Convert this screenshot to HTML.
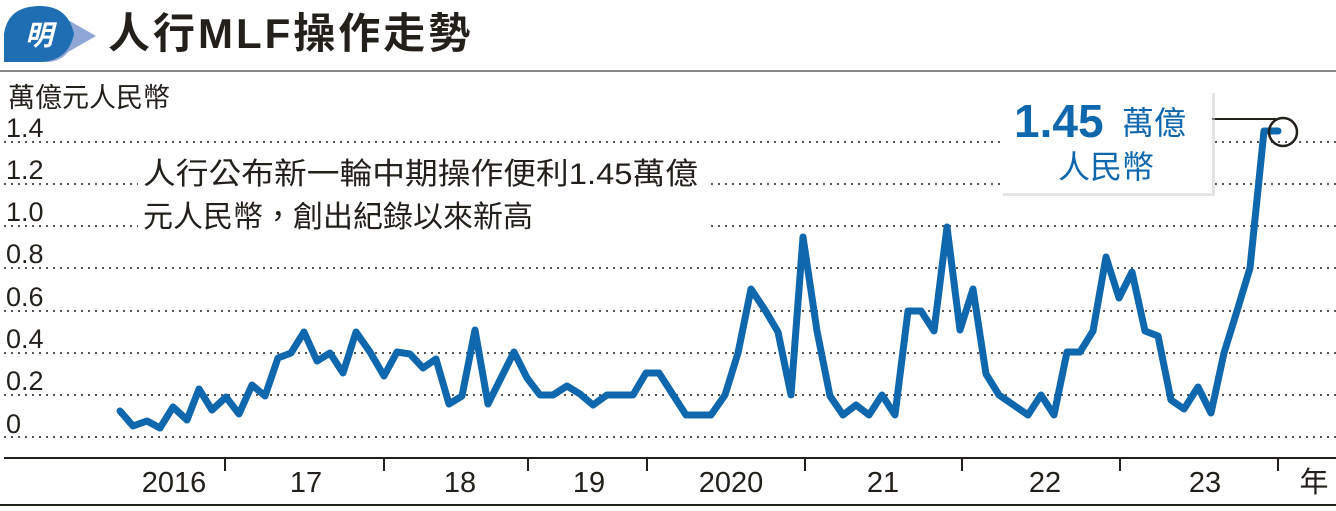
<!DOCTYPE html>
<html><head><meta charset="utf-8"><style>
body{margin:0;background:#fff;width:1336px;height:506px;overflow:hidden;font-family:"Liberation Sans","Noto Sans CJK TC",sans-serif;}
</style></head><body>
<svg width="1336" height="506" viewBox="0 0 1336 506" xmlns="http://www.w3.org/2000/svg" style="font-family:'Liberation Sans','Noto Sans CJK TC',sans-serif">
<path d="M50 12 Q60 10 68 20 L96 36 L68 52 Q60 62 46 62 L8 62 Q2 40 10 22 Q22 10 50 12 Z" fill="#8fa6d6"/>
<path d="M40 6 Q68 6 74 34 Q68 62 38 62 L4 62 L4 34 Q8 6 40 6 Z" fill="#1f6eb3"/>
<text x="39" y="45" font-size="28" font-weight="bold" fill="#fff" text-anchor="middle" font-style="italic">明</text>
<text x="108" y="48" font-size="42" font-weight="bold" fill="#231f1a" letter-spacing="3">人行MLF操作走勢</text>
<line x1="0" y1="71" x2="1336" y2="71" stroke="#888" stroke-width="2"/>
<text x="8" y="107" font-size="27" fill="#231f1a">萬億元人民幣</text>
<g stroke="#555" stroke-width="2" stroke-dasharray="2,5">
<line x1="4" y1="142" x2="1336" y2="142"/><line x1="4" y1="184" x2="1336" y2="184"/><line x1="4" y1="226" x2="1336" y2="226"/><line x1="4" y1="268" x2="1336" y2="268"/><line x1="4" y1="311" x2="1336" y2="311"/><line x1="4" y1="353" x2="1336" y2="353"/><line x1="4" y1="395" x2="1336" y2="395"/><line x1="4" y1="437" x2="1336" y2="437"/>
</g>
<g font-size="27" fill="#231f1a">
<text x="6" y="137">1.4</text><text x="6" y="179">1.2</text><text x="6" y="221">1.0</text><text x="6" y="263">0.8</text><text x="6" y="306">0.6</text><text x="6" y="348">0.4</text><text x="6" y="390">0.2</text><text x="6" y="433">0</text>
</g>
<rect x="138" y="150" width="570" height="94" fill="#fff"/>
<text x="143" y="184" font-size="30" fill="#231f1a" textLength="555" lengthAdjust="spacingAndGlyphs">人行公布新一輪中期操作便利1.45萬億</text>
<text x="143" y="227" font-size="30" fill="#231f1a">元人民幣，創出紀錄以來新高</text>
<line x1="4" y1="458" x2="1336" y2="458" stroke="#231f1a" stroke-width="2"/>
<line x1="0" y1="505" x2="1336" y2="505" stroke="#231f1a" stroke-width="2"/>
<g stroke="#231f1a" stroke-width="2">
<line x1="225" y1="458" x2="225" y2="471"/><line x1="384" y1="458" x2="384" y2="471"/><line x1="528" y1="458" x2="528" y2="471"/><line x1="647" y1="458" x2="647" y2="471"/><line x1="805" y1="458" x2="805" y2="471"/><line x1="962" y1="458" x2="962" y2="471"/><line x1="1120" y1="458" x2="1120" y2="471"/><line x1="1278" y1="458" x2="1278" y2="471"/>
</g>
<g font-size="29" fill="#231f1a" text-anchor="middle">
<text x="174" y="492">2016</text><text x="306" y="492">17</text><text x="460" y="492">18</text><text x="589" y="492">19</text><text x="731" y="492">2020</text><text x="883" y="492">21</text><text x="1045" y="492">22</text><text x="1205" y="492">23</text><text x="1314" y="492">年</text>
</g>
<polyline fill="none" stroke="#0f67ad" stroke-width="7" stroke-linejoin="round" stroke-linecap="round" points="120,411 133,426 147,421 160,428 173,407 187,420 199,389 212,410 226,397 239,414 252,385 265,396 278,358 291,353 304,332 317,361 330,353 343,373 356,332 370,352 384,376 397,352 410,354 423,368 436,359 449,404 462,396 475,330 488,404 501,378 514,352 527,378 540,395 553,395 567,386 580,394 593,405 607,395 620,395 633,395 646,373 659,373 686,415 711,415 725,395 738,353 751,289 765,310 778,332 791,395 803,237 817,331 830,396 843,415 856,405 869,415 882,395 895,415 908,311 921,311 934,331 947,227 960,330 973,289 986,374 999,395 1028,415 1041,395 1054,415 1067,352 1080,352 1093,331 1106,257 1119,298 1132,272 1145,331 1158,336 1171,400 1184,409 1198,387 1211,413 1224,353 1237,311 1250,268 1264,131 1278,131"/>
<line x1="1212" y1="119" x2="1276" y2="119" stroke="#231f1a" stroke-width="2"/>
<circle cx="1283" cy="132" r="14" fill="none" stroke="#231f1a" stroke-width="2.5"/>
<rect x="1003" y="93" width="212" height="103" fill="#ccc" opacity="0.5"/>
<rect x="1000" y="90" width="212" height="103" fill="#fff"/>
<text x="1014" y="137" font-size="46" font-weight="bold" fill="#0f67ad">1.45</text>
<text x="1122" y="134" font-size="32" fill="#0f67ad">萬億</text>
<text x="1106" y="178" font-size="32" fill="#0f67ad" text-anchor="middle">人民幣</text>
</svg>
</body></html>
